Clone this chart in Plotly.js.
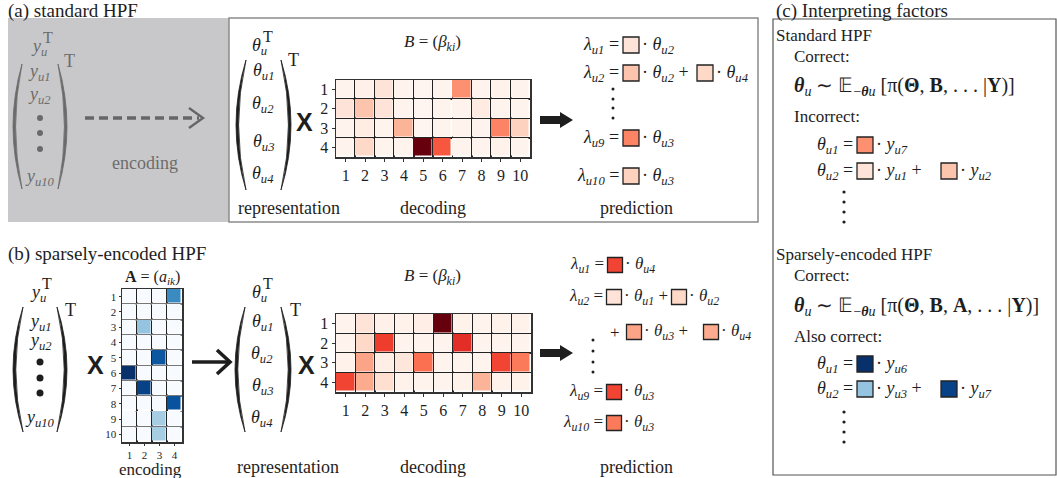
<!DOCTYPE html>
<html><head><meta charset="utf-8">
<script src="https://cdn.plot.ly/plotly-3.0.1.min.js"></script>
<style>html,body{margin:0;padding:0;background:#fff}</style>
</head><body><div id="chart" style="width:1057px;height:478px"></div>
<script>
// ---------- data ----------
const items = [1,2,3,4,5,6,7,8,9,10];
const factors = [1,2,3,4];
// B = (beta_ki), standard HPF (rows k=1..4, cols i=1..10)
const betaStandard = [
 [0.01,0.03,0.10,0.01,0.00,0.01,0.38,0.01,0.02,0.01],
 [0.10,0.22,0.10,0.01,0.00,0.01,0.01,0.06,0.01,0.01],
 [0.01,0.05,0.01,0.27,0.00,0.01,0.01,0.01,0.42,0.17],
 [0.01,0.15,0.01,0.01,1.00,0.55,0.01,0.01,0.02,0.01]];
// B = (beta_ki), sparsely-encoded HPF
const betaSparse = [
 [0.01,0.10,0.03,0.02,0.04,1.00,0.02,0.01,0.02,0.02],
 [0.01,0.15,0.62,0.01,0.01,0.01,0.67,0.01,0.01,0.01],
 [0.02,0.32,0.04,0.09,0.48,0.01,0.01,0.01,0.60,0.45],
 [0.60,0.30,0.13,0.02,0.01,0.01,0.02,0.27,0.02,0.02]];
// A = (a_ik), rows i=1..10, cols k=1..4
const alphaSparse = [
 [0.00,0.00,0.00,0.65],
 [0.00,0.00,0.00,0.00],
 [0.00,0.40,0.00,0.00],
 [0.00,0.00,0.00,0.00],
 [0.00,0.00,0.85,0.00],
 [1.00,0.00,0.00,0.00],
 [0.00,0.93,0.00,0.00],
 [0.00,0.00,0.00,0.87],
 [0.00,0.00,0.35,0.00],
 [0.00,0.00,0.35,0.00]];

const REDS = [[0,'#fff5f0'],[0.125,'#fee0d2'],[0.25,'#fcbba1'],[0.375,'#fc9272'],[0.5,'#fb6a4a'],[0.625,'#ef3b2c'],[0.75,'#cb181d'],[0.875,'#a50f15'],[1,'#67000d']];
const BLUES = [[0,'#f7fbff'],[0.125,'#deebf7'],[0.25,'#c6dbef'],[0.375,'#9ecae1'],[0.5,'#6baed6'],[0.625,'#4292c6'],[0.75,'#2171b5'],[0.875,'#08519c'],[1,'#08306b']];

const W = 1057, H = 478;
const SERIF = '"Liberation Serif", "Times New Roman", serif';
const SANS = '"Liberation Sans", Arial, sans-serif';
const INK = '#1e1e1e', GREYTXT = '#6c6c6c';
const dx = p => p / W, dy = p => 1 - p / H;

// ---------- heatmaps ----------
const hm = (z, xa, ya, cs, x, y) => ({type:'heatmap', z, x, y, xaxis:xa, yaxis:ya, colorscale:cs, zmin:0, zmax:1,
  showscale:false, xgap:1.5, ygap:1.5, hoverinfo:'skip'});
const traces = [
  hm(betaStandard, 'x', 'y', REDS, items, factors),
  hm(betaSparse, 'x2', 'y2', REDS, items, factors),
  hm(alphaSparse, 'x3', 'y3', BLUES, factors, items)
];

// ---------- coefficient squares (taken from the matrices) ----------
const redSq = [ // [value, x, y, size]
  [betaStandard[1][0], 631, 45, 16], [betaStandard[1][1], 631, 73, 16], [betaStandard[3][1], 705, 73, 16],
  [betaStandard[2][8], 631, 138, 16], [betaStandard[2][9], 631, 176, 16],
  [betaSparse[3][0], 615, 265, 15], [betaSparse[0][1], 614, 297, 15], [betaSparse[1][1], 679, 297, 15],
  [betaSparse[2][1], 634, 332, 15], [betaSparse[3][1], 711, 332, 15],
  [betaSparse[2][8], 614, 392, 15], [betaSparse[2][9], 614, 423, 15],
  [betaStandard[0][6], 865, 145, 16], [betaStandard[1][0], 865, 171, 16], [betaStandard[1][1], 949, 171, 16]
];
const blueSq = [
  [alphaSparse[5][0], 865, 364, 16], [alphaSparse[2][1], 865, 389, 16], [alphaSparse[6][1], 949, 389, 16]
];
const sqTrace = (arr, cs) => ({type:'scatter', mode:'markers', xaxis:'x4', yaxis:'y4', hoverinfo:'skip',
  x: arr.map(a=>a[1]), y: arr.map(a=>a[2]),
  marker:{symbol:'square', size: arr.map(a=>a[3]), opacity:1, color: arr.map(a=>a[0]), colorscale: cs, cmin:0, cmax:1,
          line:{color:'#222', width:1.3}}});
traces.push(sqTrace(redSq, REDS), sqTrace(blueSq, BLUES));

// ---------- shapes ----------
const shapes = [
  {type:'rect', xref:'paper', yref:'paper', x0:dx(8), x1:dx(229), y0:dy(222), y1:dy(18), fillcolor:'#c8c8ca', line:{width:0}, layer:'below'},
  {type:'rect', xref:'paper', yref:'paper', x0:dx(229), x1:dx(758), y0:dy(222), y1:dy(18), fillcolor:'#ffffff', line:{color:'#8a8a8a', width:1.5}, layer:'below'},
  {type:'rect', xref:'paper', yref:'paper', x0:dx(773), x1:dx(1056), y0:dy(475), y1:dy(19), fillcolor:'rgba(0,0,0,0)', line:{color:'#555', width:1.2}, layer:'below'}
];
function paren(xEnd, y0, y1, ext, thick, color) {
  const s = ext < xEnd ? 1 : -1, ym = (y0 + y1) / 2;
  const c1 = 2*ext - xEnd, c2 = 2*(ext + s*thick) - xEnd;
  shapes.push({type:'path', xref:'x4', yref:'y4', layer:'above',
    path:`M ${xEnd},${y0} Q ${c1},${ym} ${xEnd},${y1} Q ${c2},${ym} ${xEnd},${y0} Z`,
    fillcolor:color, line:{color:color, width:0.8}});
}
paren(22, 64, 189, 13, 2.6, '#6a6a6a'); paren(58, 64, 189, 67, 2.6, '#6a6a6a');
paren(246, 60, 190, 236, 2.6, INK); paren(281, 60, 190, 291, 2.6, INK);
paren(23, 307, 432, 13, 2.8, INK); paren(57, 307, 432, 67, 2.8, INK);
paren(245, 307, 432, 235, 2.8, INK); paren(281, 307, 432, 291, 2.8, INK);
function dot(x, y, r, color) {
  shapes.push({type:'circle', xref:'x4', yref:'y4', layer:'above', x0:x-r, x1:x+r, y0:y-r, y1:y+r, fillcolor:color, line:{width:0}});
}
[118,133,149].forEach(y=>dot(40,y,3,'#6a6a6a'));
[362,378,393].forEach(y=>dot(40,y,3.5,INK));
[89,99,108,118].forEach(y=>dot(613,y,1.5,INK));
[340,351,362,372].forEach(y=>dot(593,y,1.5,INK));
[192,202,212,222].forEach(y=>dot(844,y,1.6,INK));
[412,422,432,442].forEach(y=>dot(844,y,1.6,INK));
// dashed encoding arrow (a)
shapes.push({type:'line', xref:'x4', yref:'y4', layer:'above', x0:85, x1:199, y0:118, y1:118, line:{color:'#666', width:3.5, dash:'9px,5px'}});
shapes.push({type:'path', xref:'x4', yref:'y4', layer:'above', path:'M 189,108 L 203,118 L 189,128', line:{color:'#666', width:2.4}});
// open arrow (b)
shapes.push({type:'line', xref:'x4', yref:'y4', layer:'above', x0:192, x1:228, y0:362, y1:362, line:{color:INK, width:3.6}});
shapes.push({type:'path', xref:'x4', yref:'y4', layer:'above', path:'M 217,350 L 230,362 L 217,374', line:{color:INK, width:3.6}});
// filled arrows
function fatArrow(x0, x1, y) {
  const xh = x1 - 13;
  shapes.push({type:'path', xref:'x4', yref:'y4', layer:'above',
    path:`M ${x0},${y-4} L ${xh},${y-4} L ${xh},${y-8} L ${x1},${y} L ${xh},${y+8} L ${xh},${y+4} L ${x0},${y+4} Z`,
    fillcolor:INK, line:{width:0}});
}
fatArrow(540, 573, 120); fatArrow(540, 573, 353);

// ---------- annotations ----------
const ann = [];
function T(x, y, text, o) {
  o = o || {};
  ann.push({xref:'x4', yref:'y4', x, y, text, showarrow:false, xanchor:o.a||'center', yanchor:'middle',
    font:{family:o.f||SERIF, size:o.s||18, color:o.c||INK}});
}
const th = s => `<i>θ<sub>${s}</sub></i>`, yy = s => `<i>y<sub>${s}</sub></i>`, la = s => `<i>λ<sub>${s}</sub></i>`;
// panel titles
T(6, 11, '(a) standard HPF', {a:'left', s:19});
T(6, 254, '(b) sparsely-encoded HPF', {a:'left', s:19});
T(774, 11, '(c) Interpreting factors', {a:'left', s:19});
// (a) grey box
T(39, 47, yy('u'), {c:GREYTXT}); T(48, 37, 'T', {c:GREYTXT, s:16}); T(69, 61, 'T', {c:GREYTXT, s:18});
T(39, 72, yy('u1'), {c:GREYTXT}); T(39, 95, yy('u2'), {c:GREYTXT}); T(40, 177, yy('u10'), {c:GREYTXT});
T(145, 163, 'encoding', {c:GREYTXT});
// (a) white box
T(259, 46, th('u')); T(268, 36, 'T', {s:16}); T(293, 60, 'T', {s:18});
T(263, 71, th('u1')); T(263, 104, th('u2')); T(263, 142, th('u3')); T(263, 174, th('u4'));
T(304, 122, '<b>X</b>', {f:SANS, s:25});
T(432, 43, '<i>B</i> = (<i>β<sub>ki</sub></i>)', {s:17});
T(289, 208, 'representation'); T(433, 208, 'decoding'); T(636, 208, 'prediction');
T(621, 45, la('u1') + ' =', {a:'right'}); T(640, 45, '· ' + th('u2'), {a:'left'});
T(621, 73, la('u2') + ' =', {a:'right'}); T(640, 73, '· ' + th('u2') + ' +', {a:'left'}); T(714, 73, '· ' + th('u4'), {a:'left'});
T(621, 138, la('u9') + ' =', {a:'right'}); T(640, 138, '· ' + th('u3'), {a:'left'});
T(621, 176, la('u10') + ' =', {a:'right'}); T(640, 176, '· ' + th('u3'), {a:'left'});
// (b)
T(38, 293, yy('u')); T(47, 283, 'T', {s:16}); T(70, 310, 'T', {s:18});
T(40, 322, yy('u1')); T(40, 341, yy('u2')); T(40, 418, yy('u10'));
T(95, 365, '<b>X</b>', {f:SANS, s:25});
T(152, 277, '<b>A</b> = (<i>a<sub>ik</sub></i>)', {s:16});
T(150, 469, 'encoding', {s:17});
T(259, 293, th('u')); T(268, 283, 'T', {s:16}); T(295, 310, 'T', {s:18});
T(262, 322, th('u1')); T(262, 354, th('u2')); T(262, 386, th('u3')); T(262, 418, th('u4'));
T(306, 365, '<b>X</b>', {f:SANS, s:25});
T(432, 277, '<i>B</i> = (<i>β<sub>ki</sub></i>)', {s:17});
T(288, 467, 'representation'); T(433, 467, 'decoding'); T(636, 467, 'prediction');
T(606, 265, la('u1') + ' =', {a:'right', s:17}); T(623, 265, '· ' + th('u4'), {a:'left', s:17});
T(605, 297, la('u2') + ' =', {a:'right', s:17}); T(622, 297, '· ' + th('u1') + ' +', {a:'left', s:17}); T(687, 297, '· ' + th('u2'), {a:'left', s:17});
T(622, 332, '+', {a:'right', s:17}); T(642, 332, '· ' + th('u3') + ' +', {a:'left', s:17}); T(719, 332, '· ' + th('u4'), {a:'left', s:17});
T(605, 392, la('u9') + ' =', {a:'right', s:17}); T(622, 392, '· ' + th('u3'), {a:'left', s:17});
T(605, 423, la('u10') + ' =', {a:'right', s:17}); T(622, 423, '· ' + th('u3'), {a:'left', s:17});
// (c)
T(774, 35, 'Standard HPF', {a:'left', s:17});
T(792, 56, 'Correct:', {a:'left', s:17});
T(792, 86, '<b><i>θ</i></b><sub><i>u</i></sub> ∼ 𝔼<sub>−<b><i>θ</i></b><i>u</i></sub> [π(<b>Θ</b>, <b>B</b>, . . . |<b>Y</b>)]', {a:'left', s:20});
T(792, 116, 'Incorrect:', {a:'left', s:17});
T(855, 145, th('u1') + ' =', {a:'right'}); T(874, 145, '· ' + yy('u7'), {a:'left'});
T(855, 171, th('u2') + ' =', {a:'right'}); T(874, 171, '· ' + yy('u1') + ' +', {a:'left'}); T(958, 171, '· ' + yy('u2'), {a:'left'});
T(774, 254, 'Sparsely-encoded HPF', {a:'left', s:17});
T(792, 275, 'Correct:', {a:'left', s:17});
T(792, 306, '<b><i>θ</i></b><sub><i>u</i></sub> ∼ 𝔼<sub>−<b><i>θ</i></b><i>u</i></sub> [π(<b>Θ</b>, <b>B</b>, <b>A</b>, . . . |<b>Y</b>)]', {a:'left', s:20});
T(792, 336, 'Also correct:', {a:'left', s:17});
T(855, 364, th('u1') + ' =', {a:'right'}); T(874, 364, '· ' + yy('u6'), {a:'left'});
T(855, 389, th('u2') + ' =', {a:'right'}); T(874, 389, '· ' + yy('u3') + ' +', {a:'left'}); T(958, 389, '· ' + yy('u7'), {a:'left'});

// ---------- axes ----------
function hax(d0, d1, anchor, vals, fs, grid) {
  return {domain:[dx(d0), dx(d1)], anchor, range:[0.5, vals.length+0.5], tickmode:'array', tickvals:vals,
    ticks:'outside', ticklen:3, tickcolor:'#333', tickfont:{family:SERIF, size:fs, color:INK},
    showgrid:false, zeroline:false, showline:true, mirror:true, linecolor:'#333', linewidth:1.5,
    minor:{tickmode:'linear', tick0:0.5, dtick:1, showgrid:true, gridcolor:grid, gridwidth:1.8, ticks:''}, fixedrange:true};
}
function vax(t0, t1, anchor, vals, fs, grid) {
  return {domain:[dy(t1), dy(t0)], anchor, range:[vals.length+0.5, 0.5], tickmode:'array', tickvals:vals,
    ticks:'outside', ticklen:3, tickcolor:'#333', tickfont:{family:SERIF, size:fs, color:INK},
    showgrid:false, zeroline:false, showline:true, mirror:true, linecolor:'#333', linewidth:1.5,
    minor:{tickmode:'linear', tick0:0.5, dtick:1, showgrid:true, gridcolor:grid, gridwidth:1.8, ticks:''}, fixedrange:true};
}
const layout = {
  width:W, height:H, margin:{l:0, r:0, t:0, b:0}, paper_bgcolor:'#ffffff', plot_bgcolor:'rgba(0,0,0,0)',
  showlegend:false, font:{family:SERIF},
  xaxis: hax(336, 530, 'y', items, 16, '#222'), yaxis: vax(80, 157, 'x', factors, 16, '#222'),
  xaxis2: hax(336, 531, 'y2', items, 16, '#222'), yaxis2: vax(314, 392, 'x2', factors, 16, '#222'),
  xaxis3: hax(122, 182, 'y3', factors, 11, '#222'), yaxis3: vax(289, 442, 'x3', items, 11, '#777'),
  xaxis4: {domain:[0,1], anchor:'y4', range:[0, W], visible:false, fixedrange:true},
  yaxis4: {domain:[0,1], anchor:'x4', range:[H, 0], visible:false, fixedrange:true},
  shapes, annotations: ann
};
layout.xaxis3.ticklen = 2; layout.yaxis3.ticklen = 2;
Plotly.newPlot('chart', traces, layout, {staticPlot:true, displayModeBar:false});
</script></body></html>
